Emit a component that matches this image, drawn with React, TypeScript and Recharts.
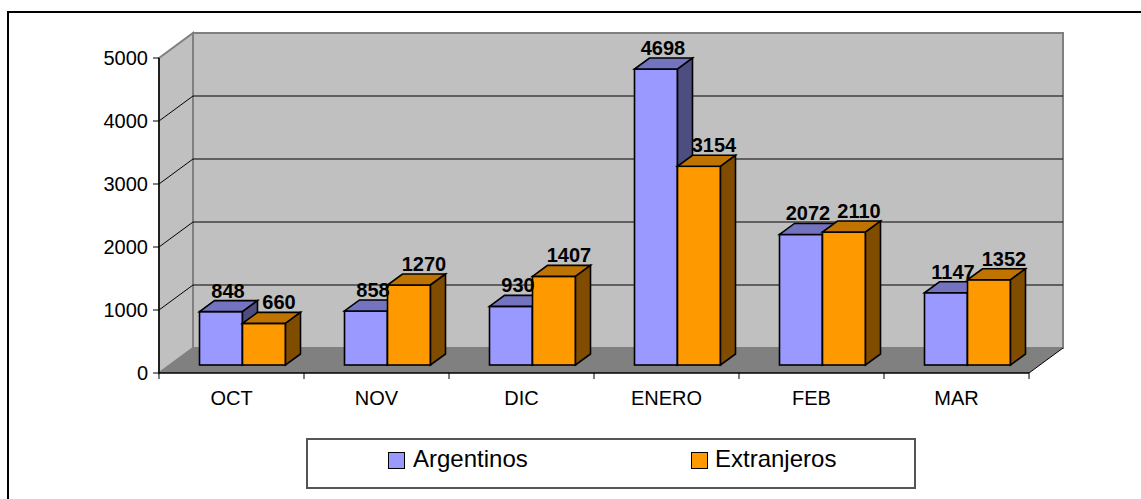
import { BarChart, Bar, XAxis, YAxis, CartesianGrid, Legend, LabelList } from 'recharts'

const months = ['OCT', 'NOV', 'DIC', 'ENERO', 'FEB', 'MAR']
const argentinos = [848, 858, 930, 4698, 2072, 1147]
const extranjeros = [660, 1270, 1407, 3154, 2110, 1352]
const yTicks = [0, 1000, 2000, 3000, 4000, 5000]

const data = months.map((m, i) => ({ mes: m, Argentinos: argentinos[i], Extranjeros: extranjeros[i] }))

const FONT = '"Liberation Sans", Arial, sans-serif'
// depth of the walls, shift of the bars into the floor, depth of a bar
const D = { x: 34, y: -25 }
const S = { x: 10.5, y: -8 }
const B = { x: 15, y: -11 }

const COLORS = {
  Argentinos: { front: '#9999FF', top: '#7373BF', side: '#4D4D80' },
  Extranjeros: { front: '#FF9900', top: '#BF7300', side: '#804D00' },
}

function WallLine(props: any) {
  const { x1, y1, x2, index, x, y, width, height } = props
  const top = y
  const bottom = y + height
  const isTop = Math.abs(y1 - top) < 0.5
  const isBottom = Math.abs(y1 - bottom) < 0.5
  return (
    <g key={`wl-${index}`}>
      {index === 0 && (
        <g>
          <polygon
            points={`${x},${top} ${x + D.x},${top + D.y} ${x + D.x},${bottom + D.y} ${x},${bottom}`}
            fill="#C0C0C0" stroke="#808080" strokeWidth={2}
          />
          <rect x={x + D.x} y={top + D.y} width={width} height={height} fill="#C0C0C0" stroke="#808080" strokeWidth={2} />
          <polygon
            points={`${x},${bottom} ${x + width},${bottom} ${x + width + D.x},${bottom + D.y} ${x + D.x},${bottom + D.y}`}
            fill="#808080"
          />
          <line x1={x + width} y1={bottom} x2={x + width + D.x} y2={bottom + D.y} stroke="#000" strokeWidth={1} />
        </g>
      )}
      {!isTop && !isBottom && (
        <g>
          <line x1={x1} y1={y1} x2={x1 + D.x} y2={y1 + D.y} stroke="#000" strokeWidth={1} />
          <line x1={x1 + D.x} y1={y1 + D.y} x2={x2 + D.x} y2={y1 + D.y} stroke="#000" strokeWidth={1} />
        </g>
      )}
    </g>
  )
}

function Box3D(props: any) {
  const { x, y, width, height, c } = props
  if (height == null || height <= 0) return null
  const fx = x + S.x
  const fy = y + S.y
  return (
    <g stroke="#000" strokeWidth={1.6} strokeLinejoin="miter">
      <rect x={fx} y={fy} width={width} height={height} fill={c.front} />
      <polygon
        points={`${fx},${fy} ${fx + width},${fy} ${fx + width + B.x},${fy + B.y} ${fx + B.x},${fy + B.y}`}
        fill={c.top}
      />
      <polygon
        points={`${fx + width},${fy} ${fx + width + B.x},${fy + B.y} ${fx + width + B.x},${fy + height + B.y} ${fx + width},${fy + height}`}
        fill={c.side}
      />
    </g>
  )
}

const makeLabel = (dx: number) => (p: any) => (
  <text
    x={p.x + p.width / 2 + S.x + dx}
    y={p.y + S.y + B.y - 3}
    textAnchor="middle"
    fontFamily={FONT}
    fontSize={20}
    fontWeight="bold"
    fill="#000"
  >
    {p.value}
  </text>
)

function MonthTick(props: any) {
  const { x, y, payload, index } = props
  const half = payload.offset ?? 0
  const axisY = y - 8
  return (
    <g>
      <line x1={x - half} y1={axisY} x2={x - half} y2={axisY + 6} stroke="#000" strokeWidth={1} />
      {index === months.length - 1 && (
        <line x1={x + half} y1={axisY} x2={x + half} y2={axisY + 6} stroke="#000" strokeWidth={1} />
      )}
      <text x={x} y={y + 24} textAnchor="middle" fontFamily={FONT} fontSize={20} fill="#000">
        {payload.value}
      </text>
    </g>
  )
}

function LegendBox(props: any) {
  const items = props.payload || []
  const pos = [{ sq: 82, tx: 107 }, { sq: 385, tx: 409 }]
  return (
    <div
      style={{
        position: 'relative', width: 610, height: 51, boxSizing: 'border-box',
        border: '2px solid #555', background: '#fff', fontFamily: FONT, fontSize: 24,
      }}
    >
      {items.map((it: any, i: number) => (
        <div key={it.value}>
          <div
            style={{
              position: 'absolute', left: pos[i].sq - 2, top: 12, width: 17, height: 17,
              boxSizing: 'border-box', border: '1.5px solid #000',
              background: COLORS[it.value as keyof typeof COLORS].front,
            }}
          />
          <div style={{ position: 'absolute', left: pos[i].tx - 2, top: 7, lineHeight: '24px', color: '#000', whiteSpace: 'nowrap' }}>
            {it.value}
          </div>
        </div>
      ))}
    </div>
  )
}

export default function App() {
  return (
    <div style={{ position: 'absolute', left: 0, top: 0, width: 1141, height: 499, overflow: 'hidden', background: '#fff' }}>
      <div
        style={{
          position: 'absolute', left: 7, top: 11, width: 1200, height: 600,
          borderLeft: '2px solid #000', borderTop: '2px solid #000', boxSizing: 'border-box',
        }}
      />
      <div style={{ position: 'absolute', left: 0, top: 0 }}>
        <BarChart
          width={1141}
          height={499}
          data={data}
          margin={{ top: 58, right: 112, bottom: 96, left: 99 }}
          barCategoryGap={30}
          barGap={0}
        >
          <CartesianGrid vertical={false} horizontal={(p: any) => <WallLine {...p} />} />
          <XAxis
            dataKey="mes"
            tick={<MonthTick />}
            tickLine={false}
            tickSize={6}
            tickMargin={2}
            axisLine={{ stroke: '#000', strokeWidth: 1.5 }}
            interval={0}
            height={30}
          />
          <YAxis
            domain={[0, 5000]}
            ticks={yTicks}
            interval={0}
            width={60}
            tickSize={6}
            tickMargin={5}
            tick={{ fontSize: 20, fill: '#000', fontFamily: FONT }}
            tickLine={{ stroke: '#000' }}
            axisLine={{ stroke: '#000', strokeWidth: 1.5 }}
          />
          <Legend
            layout="horizontal"
            verticalAlign="middle"
            align="center"
            wrapperStyle={{ position: 'absolute', left: 306, top: 438, width: 610, height: 51 }}
            content={<LegendBox />}
          />
          <Bar
            dataKey="Argentinos"
            fill={COLORS.Argentinos.front}
            isAnimationActive={false}
            shape={(p: any) => <Box3D {...p} c={COLORS.Argentinos} />}
          >
            <LabelList dataKey="Argentinos" content={makeLabel(7)} />
          </Bar>
          <Bar
            dataKey="Extranjeros"
            fill={COLORS.Extranjeros.front}
            isAnimationActive={false}
            shape={(p: any) => <Box3D {...p} c={COLORS.Extranjeros} />}
          >
            <LabelList dataKey="Extranjeros" content={makeLabel(15)} />
          </Bar>
        </BarChart>
      </div>
    </div>
  )
}
